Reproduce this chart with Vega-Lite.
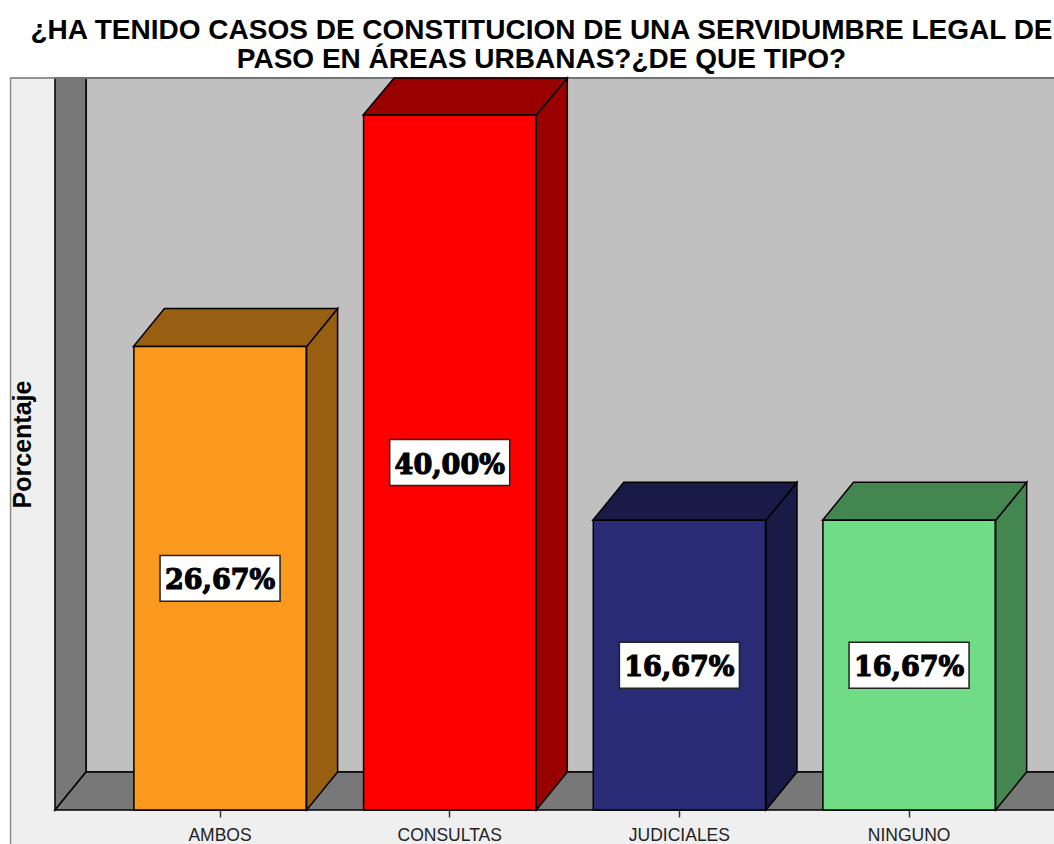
{
"$schema":"https://vega.github.io/schema/vega-lite/v6.json",
"autosize":{"type":"none"},
"padding":{"left":55,"top":78,"right":0,"bottom":34},
"width":999,"height":732,
"background":"white",
"config":{"view":{"stroke":null},"font":"Liberation Sans"},
"title":{"text":["¿HA TENIDO CASOS DE CONSTITUCION DE UNA SERVIDUMBRE LEGAL DE","PASO EN ÁREAS URBANAS?¿DE QUE TIPO?"],"fontSize":28,"fontWeight":"bold","font":"Liberation Sans","color":"#000000","anchor":"middle","lineHeight":29,"offset":1,"dx":-13},
"datasets":{
"geo":[
{"part":"panel","x":-0.912,"low":-2.6,"high":42.13},
{"part":"panel","x":3.66,"low":-2.6,"high":42.13},
{"part":"fondo","x":-0.5834,"low":2.19,"high":42.13},
{"part":"fondo","x":3.66,"low":2.19,"high":42.13},
{"part":"pared","x":-0.7184,"low":0,"high":42.13},
{"part":"pared","x":-0.5834,"low":2.19,"high":42.13},
{"part":"marco","x":-0.912,"low":42.13,"high":42.13},
{"part":"marco","x":3.66,"low":42.13,"high":42.13},
{"part":"suelo","x":-0.7184,"low":0,"high":0},
{"part":"suelo","x":-0.5834,"low":0,"high":2.19},
{"part":"suelo","x":3.66,"low":0,"high":2.19},
{"part":"AMBOS lado","x":0.377,"low":0,"high":26.67},
{"part":"AMBOS lado","x":0.512,"low":2.19,"high":28.86},
{"part":"AMBOS techo","x":-0.377,"low":26.67,"high":26.67},
{"part":"AMBOS techo","x":-0.242,"low":26.67,"high":28.86},
{"part":"AMBOS techo","x":0.377,"low":26.67,"high":28.86},
{"part":"AMBOS techo","x":0.512,"low":28.86,"high":28.86},
{"part":"CONSULTAS lado","x":1.377,"low":0,"high":40},
{"part":"CONSULTAS lado","x":1.512,"low":2.19,"high":42.13},
{"part":"CONSULTAS techo","x":0.623,"low":40,"high":40},
{"part":"CONSULTAS techo","x":0.758,"low":40,"high":42.13},
{"part":"CONSULTAS techo","x":1.377,"low":40,"high":42.13},
{"part":"CONSULTAS techo","x":1.512,"low":42.13,"high":42.13},
{"part":"JUDICIALES lado","x":2.377,"low":0,"high":16.67},
{"part":"JUDICIALES lado","x":2.512,"low":2.19,"high":18.86},
{"part":"JUDICIALES techo","x":1.623,"low":16.67,"high":16.67},
{"part":"JUDICIALES techo","x":1.758,"low":16.67,"high":18.86},
{"part":"JUDICIALES techo","x":2.377,"low":16.67,"high":18.86},
{"part":"JUDICIALES techo","x":2.512,"low":18.86,"high":18.86},
{"part":"NINGUNO lado","x":3.377,"low":0,"high":16.67},
{"part":"NINGUNO lado","x":3.512,"low":2.19,"high":18.86},
{"part":"NINGUNO techo","x":2.623,"low":16.67,"high":16.67},
{"part":"NINGUNO techo","x":2.758,"low":16.67,"high":18.86},
{"part":"NINGUNO techo","x":3.377,"low":16.67,"high":18.86},
{"part":"NINGUNO techo","x":3.512,"low":18.86,"high":18.86}
],
"bars":[
{"tipo":"AMBOS","pct":26.67,"mid":13.33,"label":"26,67%"},
{"tipo":"CONSULTAS","pct":40.0,"mid":20.0,"label":"40,00%"},
{"tipo":"JUDICIALES","pct":16.67,"mid":8.33,"label":"16,67%"},
{"tipo":"NINGUNO","pct":16.67,"mid":8.33,"label":"16,67%"}
]
},
"resolve":{"scale":{"x":"independent"},"axis":{"x":"independent"}},
"layer":[
{
"data":{"name":"geo"},
"mark":{"type":"area","orient":"vertical","strokeWidth":1.5,"clip":false,"opacity":1},
"encoding":{
"x":{"field":"x","type":"quantitative","scale":{"domain":[-0.7184,3.631],"nice":false,"zero":false},"axis":null},
"y":{"field":"low","type":"quantitative","scale":{"domain":[0,42.13],"nice":false},"axis":{"title":"Porcentaje","zindex":1,"titleFontSize":25,"titleFontWeight":"bold","titleColor":"#000000","titleFont":"Liberation Sans","labels":false,"ticks":false,"domain":false,"grid":false,"titlePadding":20}},
"y2":{"field":"high"},
"stroke":{"condition":{"test":"datum.part==='panel'||datum.part==='marco'","value":"#8c8c8c"},"value":"#000000"},
"color":{"field":"part","type":"nominal","legend":null,"sort":null,"scale":{
"domain":["panel","fondo","pared","marco","suelo","AMBOS","AMBOS lado","AMBOS techo","CONSULTAS","CONSULTAS lado","CONSULTAS techo","JUDICIALES","JUDICIALES lado","JUDICIALES techo","NINGUNO","NINGUNO lado","NINGUNO techo"],
"range":["#efefef","#c0c0c0","#787878","#8c8c8c","#787878","#fb991e","#985e12","#985e12","#ff0000","#990000","#990000","#292b75","#191a46","#191a46","#70dc85","#438650","#438650"]}}
}
},
{
"data":{"name":"bars"},
"layer":[
{
"mark":{"type":"bar","stroke":"#000000","strokeWidth":1.5,"clip":false},
"encoding":{
"x":{"field":"tipo","type":"nominal","sort":null,"scale":{"type":"band","range":[50.2,968.9],"paddingInner":0.25,"paddingOuter":0.125},"axis":{"title":null,"zindex":1,"labelAngle":0,"labelFontSize":17.5,"labelColor":"#222222","labelFont":"Liberation Sans","tickColor":"#333333","tickSize":7,"tickWidth":1.5,"domain":false,"labelPadding":9,"grid":false}},
"y":{"field":"pct","type":"quantitative"},
"color":{"field":"tipo","type":"nominal","legend":null}
}
},
{
"mark":{"type":"point","filled":true,"fill":"#ffffff","fillOpacity":1,"opacity":1,"stroke":"#222222","strokeWidth":1.5,"shape":"M-1,-0.383H1V0.383H-1Z","size":14400},
"encoding":{
"x":{"field":"tipo","type":"nominal","sort":null},
"y":{"field":"mid","type":"quantitative"}
}
},
{
"mark":{"type":"text","font":"DejaVu Serif","fontWeight":"bold","fontSize":27,"color":"#000000","stroke":"#000000","strokeWidth":1.2,"baseline":"middle","dy":3},
"encoding":{
"x":{"field":"tipo","type":"nominal","sort":null},
"y":{"field":"mid","type":"quantitative"},
"text":{"field":"label"}
}
}
]
}
]
}
